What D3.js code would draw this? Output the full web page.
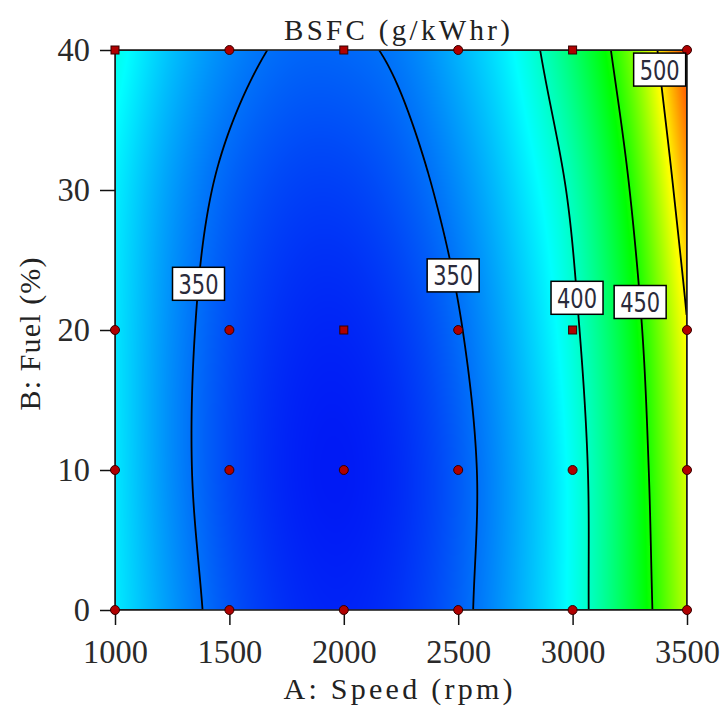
<!DOCTYPE html>
<html><head><meta charset="utf-8">
<script src="https://cdn.jsdelivr.net/npm/d3@7"></script>
<style>body{margin:0;background:#fff}svg{display:block}</style>
</head><body>
<svg id="chart" width="722" height="707"></svg>
<script>
// ---- data ----
const speedGrid = [1000,1250,1500,1750,2000,2250,2500,2750,3000,3250,3500];
const fuelGrid = [0,10,20,30,40];
const bsfcFuel0  = [382.0,360.0,342.6,332.7,330.0,334.3,345.8,364.5,390.2,430.0,483.0];
const bsfcFuel10 = [381.0,356.7,339.7,330.0,327.6,332.4,344.5,363.8,390.4,432.0,490.0];
const bsfcFuel20 = [380.7,357.3,341.2,332.3,330.5,336.0,348.7,368.6,395.7,438.0,499.0];
const bsfcFuel30 = [383.1,361.1,346.2,338.3,337.4,343.5,356.7,376.8,404.0,450.2,516.0];
const bsfcFuel40 = [392.2,370.5,355.9,348.2,347.6,353.0,367.3,387.7,420.0,468.0,537.0];
const contourLevels = [350,400,450,500];
const xTicks = [1000,1500,2000,2500,3000,3500];
const yTicks = [0,10,20,30,40];
const designSpeed = [1000,1500,2000,2500,3000,3500, 1000,1500,2000,2500,3000,3500, 1000,1500,2000,2500,3000,3500, 1000,1500,2000,2500,3000,3500];
const designFuel  = [40,40,40,40,40,40, 20,20,20,20,20,20, 10,10,10,10,10,10, 0,0,0,0,0,0];
const designShape = ["sq","ci","sq","ci","sq","ci", "ci","ci","sq","ci","sq","ci", "ci","ci","ci","ci","ci","ci", "ci","ci","ci","ci","ci","ci"];
const labelLevel = [350,350,400,450,500];
const labelFuel  = [23.3,23.9,22.3,22.0,38.6];
const labelSide  = ["first","last","last","last","last"];
const titleText = "BSFC (g/kWhr)";
const xTitle = "A: Speed (rpm)";
const yTitle = "B: Fuel (%)";

// ---- layout ----
const L = 115, R = 687, T = 50, B = 610;
const svg = d3.select("#chart");
const x = d3.scaleLinear().domain([1000,3500]).range([L,R]);
const y = d3.scaleLinear().domain([0,40]).range([B,T]);
const color = d3.scaleLinear()
  .domain([325,387,445,497,550])
  .range(["#0010f5","#00ffff","#00ff00","#ffff00","#ff0000"])
  .clamp(true);

const rows = [bsfcFuel0,bsfcFuel10,bsfcFuel20,bsfcFuel30,bsfcFuel40];
const nA = speedGrid.length, nB = fuelGrid.length;
function gv(i,j){
  if (j < 0) return 2*gv(i,0) - gv(i,1);
  if (j > nB-1) return 2*gv(i,nB-1) - gv(i,nB-2);
  if (i < 0) return 2*gv(0,j) - gv(1,j);
  if (i > nA-1) return 2*gv(nA-1,j) - gv(nA-2,j);
  return rows[j][i];
}
function cr(p0,p1,p2,p3,t){
  return 0.5*((2*p1)+(-p0+p2)*t+(2*p0-5*p1+4*p2-p3)*t*t+(-p0+3*p1-3*p2+p3)*t*t*t);
}
const aStep = speedGrid[1]-speedGrid[0], bStep = fuelGrid[1]-fuelGrid[0];
function field(A,Bv){
  const u = (A - speedGrid[0])/aStep, v = (Bv - fuelGrid[0])/bStep;
  let i = Math.min(nA-2, Math.max(0, Math.floor(u))), t = u - i;
  let j = Math.min(nB-2, Math.max(0, Math.floor(v))), s = v - j;
  const c = [];
  for (let k=-1;k<=2;k++){
    c.push(cr(gv(i-1,j+k),gv(i,j+k),gv(i+1,j+k),gv(i+2,j+k),t));
  }
  return cr(c[0],c[1],c[2],c[3],s);
}

// ---- heat map via canvas image ----
const W = R-L, H = B-T;
const cv = document.createElement("canvas");
cv.width = W; cv.height = H;
const ctx = cv.getContext("2d");
const img = ctx.createImageData(W,H);
for (let py=0; py<H; py++){
  const fv = y.invert(T+py+0.5);
  for (let px=0; px<W; px++){
    const c = d3.rgb(color(field(x.invert(L+px+0.5), fv)));
    const o = (py*W+px)*4;
    img.data[o]=c.r; img.data[o+1]=c.g; img.data[o+2]=c.b; img.data[o+3]=255;
  }
}
ctx.putImageData(img,0,0);

svg.append("defs").append("clipPath").attr("id","plotclip")
  .append("rect").attr("x",L).attr("y",T).attr("width",W).attr("height",H);

svg.append("image").attr("x",L).attr("y",T).attr("width",W).attr("height",H)
  .attr("preserveAspectRatio","none")
  .attr("href", cv.toDataURL());

// ---- contour lines ----
const n = 500, m = 448;
const vals = new Float64Array(n*m);
for (let j=0;j<m;j++) for (let i=0;i<n;i++)
  vals[j*n+i] = field(1000 + (i+0.5)*2500/n, (j+0.5)*40/m);
const cont = d3.contours().size([n,m]).thresholds(contourLevels)(vals);
const proj = d3.geoTransform({point(px,py){ this.stream.point(x(1000+px*2500/n), y(py*40/m)); }});
const gpath = d3.geoPath(proj);
svg.append("g").attr("clip-path","url(#plotclip)")
  .selectAll("path").data(cont).join("path")
  .attr("d", gpath).attr("fill","none").attr("stroke","#000").attr("stroke-width",1.8);

// ---- border ----
svg.append("rect").attr("x",L).attr("y",T).attr("width",W).attr("height",H)
  .attr("fill","none").attr("stroke","#222").attr("stroke-width",1.6);

// ---- axes ----
const font = "'Liberation Serif','Times New Roman',serif";
const gx = svg.append("g").attr("transform",`translate(0,${B})`)
  .call(d3.axisBottom(x).tickValues(xTicks).tickFormat(d3.format("d")).tickSize(15).tickPadding(15));
const gy = svg.append("g").attr("transform",`translate(${L},0)`)
  .call(d3.axisLeft(y).tickValues(yTicks).tickFormat(d3.format("d")).tickSize(15).tickPadding(10));
[gx,gy].forEach(g=>{
  g.select(".domain").remove();
  g.selectAll(".tick line").attr("stroke","#111").attr("stroke-width",1.5);
  g.selectAll(".tick text").attr("font-family",font).attr("font-size",33).attr("fill","#2a2a2a")
    .attr("textLength",function(){ return this.textContent.length*16.2; })
    .attr("lengthAdjust","spacingAndGlyphs");
});

// ---- design points ----
const pts = svg.append("g");
designSpeed.forEach((a,k)=>{
  const cx = x(a), cy = y(designFuel[k]);
  if (designShape[k]==="sq"){
    pts.append("rect").attr("x",cx-4).attr("y",cy-4).attr("width",8).attr("height",8)
      .attr("fill","#b00000").attr("stroke","#300").attr("stroke-width",1);
  } else {
    pts.append("circle").attr("cx",cx).attr("cy",cy).attr("r",4.5)
      .attr("fill","#b00000").attr("stroke","#300").attr("stroke-width",1);
  }
});

// ---- contour labels ----
const lab = svg.append("g");
labelLevel.forEach((lv,k)=>{
  const fb = labelFuel[k];
  const crossings = [];
  let prev = field(1000,fb);
  for (let a=1001; a<=3500; a+=1){
    const cur = field(a,fb);
    if ((prev-lv)*(cur-lv) <= 0 && prev!==cur) crossings.push(a-1+(lv-prev)/(cur-prev));
    prev = cur;
  }
  if (!crossings.length) return;
  const aPos = labelSide[k]==="first" ? crossings[0] : crossings[crossings.length-1];
  const bw = 52, bh = 33;
  let cx = Math.min(R-bw/2, x(aPos)), cy = y(fb);
  lab.append("rect").attr("x",cx-bw/2).attr("y",cy-bh/2).attr("width",bw).attr("height",bh)
    .attr("fill","#fff").attr("stroke","#000").attr("stroke-width",1.5);
  lab.append("text").attr("x",cx).attr("y",cy+10).attr("text-anchor","middle")
    .attr("font-family","'DejaVu Sans',sans-serif").attr("font-size",27).attr("fill","#2a2a3a")
    .attr("textLength",40).attr("lengthAdjust","spacingAndGlyphs").text(lv);
});

// ---- titles ----
svg.append("text").attr("x",397).attr("y",40).attr("text-anchor","middle")
  .attr("font-family",font).attr("font-size",29).attr("fill","#222")
  .attr("textLength",226).attr("lengthAdjust","spacing").text(titleText);
svg.append("text").attr("x",398).attr("y",699).attr("text-anchor","middle")
  .attr("font-family",font).attr("font-size",30).attr("fill","#222")
  .attr("textLength",229).attr("lengthAdjust","spacing").text(xTitle);
svg.append("text").attr("transform","translate(40,334) rotate(-90)").attr("text-anchor","middle")
  .attr("font-family",font).attr("font-size",30).attr("fill","#222")
  .attr("textLength",153).attr("lengthAdjust","spacing").text(yTitle);
</script>
</body></html>
